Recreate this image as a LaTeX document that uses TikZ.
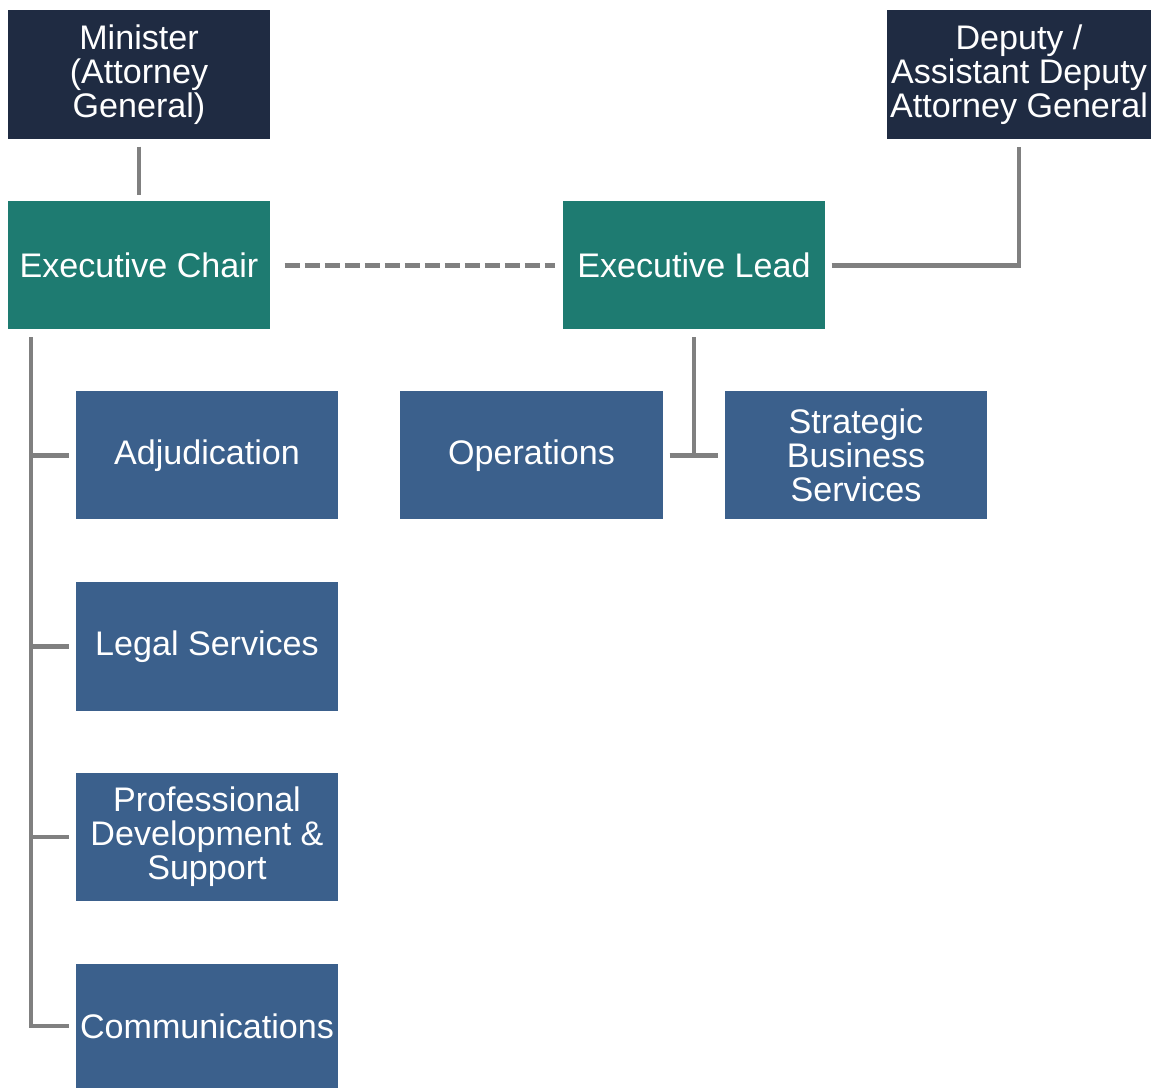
\documentclass[tikz,border=0pt]{standalone}
\usepackage{fontspec}
\setmainfont{Liberation Sans}
\usetikzlibrary{calc}

\definecolor{navy}{HTML}{1F2B42}
\definecolor{teal}{HTML}{1E7B71}
\definecolor{unit}{HTML}{3B608C}
\definecolor{linegray}{HTML}{808080}

\tikzset{
  box/.style={fill=#1, text=white, inner sep=0pt, minimum width=26.2mm, minimum height=12.8mm,
    align=center, font=\fontsize{9.7}{9.7}\selectfont},
  conn/.style={draw=linegray, line width=1.15pt},
}

\begin{document}
\begin{tikzpicture}[x=0.1mm, y=-0.1mm]
 \useasboundingbox (0,0) rectangle (1154,1088); %page
 \fill[white] (0,0) rectangle (1154,1088);

 \node[box=navy, minimum height=12.9mm] (minister) at (139,74.5) {Minister\\(Attorney\\General)};
 \node[box=navy, minimum width=26.4mm, minimum height=12.9mm] (deputy) at (1019,74.5) {Deputy /\\Assistant Deputy\\Attorney General};
 \node[box=teal] (chair) at (139,265.5) {Executive Chair};
 \node[box=teal] (lead) at (694,265.5) {Executive Lead};

 \node[box=unit] (adjud) at (207,455.5) {Adjudication};
 \node[box=unit, minimum width=26.3mm] (ops) at (531.5,455.5) {Operations};
 \node[box=unit] (sbs) at (856,455.5) {Strategic\\Business\\Services};
 \node[box=unit, minimum height=12.9mm] (legal) at (207,646.5) {Legal Services};
 \node[box=unit] (profdev) at (207,837) {Professional\\Development \&\\Support};
 \node[box=unit, minimum height=12.4mm] (comms) at (207,1026) {Communications};

 %top links
 \draw[conn, shorten <=0.7mm, shorten >=0.6mm] (minister) -- (chair);
 \draw[conn, dash pattern=on 1.5mm off 0.5mm, shorten <=1.4mm, shorten >=0.7mm] (chair) -- (lead);
 \draw[conn] ($(lead.east)+(6,0)$) -| ($(deputy.south)+(0,7)$);

 %chair branch
 \coordinate (trunk) at ($(chair.south west)+(24,7)$);
 \draw[conn] (trunk) |- ($(comms.west)+(-6,0)$);
 \foreach \n in {adjud,legal,profdev}
   \draw[conn] (trunk |- \n.west) -- ($(\n.west)+(-6,0)$);

 %lead branch
 \draw[conn] ($(lead.south)+(0,7)$) -- (lead.south |- ops.east);
 \draw[conn] ($(ops.east)+(6,0)$) -- ($(sbs.west)+(-6,0)$);
\end{tikzpicture}
\end{document}
